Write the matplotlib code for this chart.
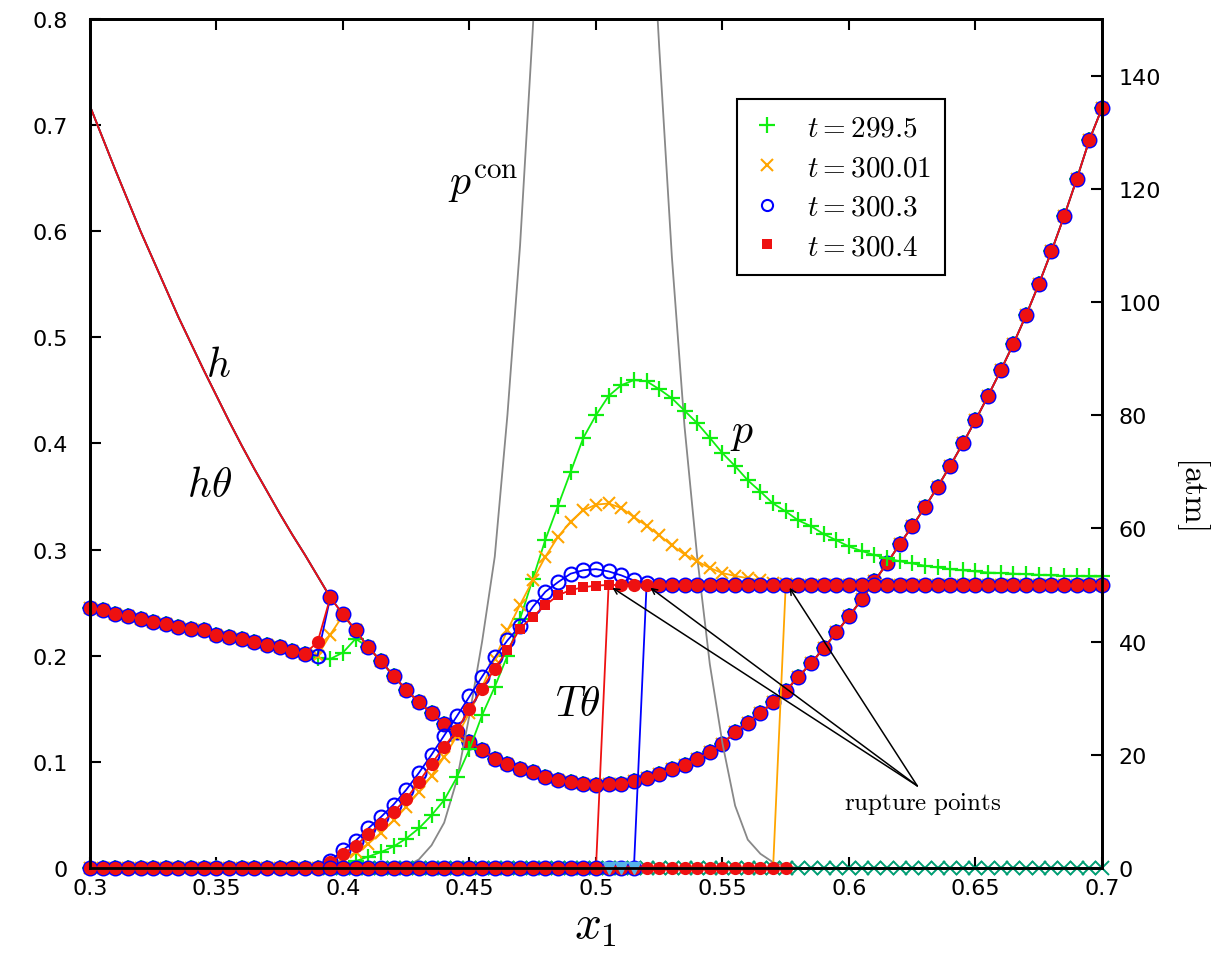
import numpy as np
import matplotlib
matplotlib.use("Agg")
import matplotlib.pyplot as plt
from matplotlib.lines import Line2D

plt.rcParams['mathtext.fontset'] = 'cm'

# grid in x1
x = np.round(np.linspace(0.3, 0.7, 81), 3)

# h left of the contact zone (line only)
h_left = [0.718, 0.688, 0.658, 0.629, 0.600, 0.573, 0.546, 0.519, 0.494, 0.469,
          0.445, 0.421, 0.398, 0.376, 0.355, 0.334, 0.314, 0.295, 0.275, 0.255]

# h*theta, shared part for x <= 0.385
htheta_left = [0.245, 0.243, 0.239, 0.237, 0.235, 0.232, 0.230, 0.227, 0.225,
               0.224, 0.220, 0.218, 0.216, 0.213, 0.210, 0.208, 0.204, 0.202]
# x = 0.39 .. 0.405, per time
htheta_jump = {
    '299.5': [0.198, 0.197, 0.203, 0.216],
    '300.01': [0.200, 0.220, 0.238, 0.224],
    '300.3': [0.200, 0.255, 0.239, 0.224],
    '300.4': [0.213, 0.255, 0.239, 0.224],
}
# x = 0.41 .. 0.7, shared
htheta_right = [0.208, 0.195, 0.181, 0.168, 0.156, 0.146, 0.136, 0.128, 0.119, 0.111,
                0.103, 0.098, 0.093, 0.090, 0.086, 0.083, 0.081, 0.079, 0.078, 0.079,
                0.079, 0.082, 0.085, 0.089, 0.093, 0.097, 0.103, 0.109, 0.117, 0.128,
                0.137, 0.146, 0.156, 0.167, 0.180, 0.193, 0.207, 0.222, 0.237, 0.253,
                0.270, 0.287, 0.305, 0.322, 0.340, 0.359, 0.379, 0.400, 0.422, 0.445,
                0.469, 0.494, 0.521, 0.550, 0.581, 0.614, 0.649, 0.686, 0.716]

# pressure p [atm], zero for x <= 0.39, then x = 0.395 .. 0.7
p_zero = [0.0] * 19
p_green = [0, 0.5, 1.2, 2, 2.8, 3.8, 5.2, 7, 9.3, 12, 16, 21, 27, 32, 37.5, 44, 51, 58,
           64, 70, 76, 80, 83.4, 85.3, 86.2, 86, 84.6, 83, 80.8, 78.6, 76, 73.3, 71,
           68.5, 66.5, 64.4, 63, 61.4, 60.4, 59, 57.9, 56.8, 56, 55.3, 54.7, 54.2, 53.8,
           53.4, 53.1, 52.8, 52.6, 52.4, 52.2, 52.1, 52, 51.9, 51.8, 51.7, 51.6, 51.6,
           51.5, 51.5]
p_orange = [0.5, 1.5, 2.8, 4.3, 6.2, 8.4, 10.8, 13.4, 16.3, 19.6, 23.3, 27.4, 32, 37,
            42, 46.5, 50.8, 55, 58.5, 61.2, 63.2, 64.2, 64.4, 63.6, 62, 60.5, 58.8, 57,
            55.4, 54.2, 53, 52.1, 51.6, 51.2, 50.8, 50.4, 50.2] + [50] * 25
p_blue = [1.2, 3.2, 4.8, 7.0, 9.0, 11.2, 13.8, 16.8, 20.0, 23.4, 26.8, 30.3, 33.8, 37.2,
          40.2, 42.8, 46.1, 48.8, 50.5, 52.0, 52.6, 52.8, 52.4, 51.7, 50.8, 50.4] + [50] * 36
p_red = [1.0, 2.5, 3.9, 6.0, 7.8, 9.9, 12.2, 15.2, 18.4, 21.4, 24.3, 28.1, 31.7, 35.2,
         38.5, 42.3, 44.4, 46.4, 48.2, 49.1, 49.6, 49.9] + [50] * 40

# contact pressure p^con [atm], x = 0.42 .. 0.58
x_con = np.round(np.linspace(0.42, 0.58, 33), 3)
p_con = [0, 0.3, 1.5, 4, 8, 15.5, 27, 40, 55, 80, 110, 148, 190, 225, 252, 268, 272,
         266, 250, 224, 185, 145, 108, 78, 55, 36, 22, 11, 5, 2.5, 1, 0.3, 0]

# rupture points: (x at zero, x at cavitation level)
rupture = {'300.01': (0.57, 0.575), '300.3': (0.515, 0.52), '300.4': (0.5, 0.505)}
p_cav = 50

# markers lying on zero in the cavitated part
x_zero_teal = x[19:]
x_zero_blue = x[19:44]
x_zero_red = x[19:56]
x_zero_light = [0.505, 0.51, 0.515]

times = ['299.5', '300.01', '300.3', '300.4']
colors = {'299.5': '#11ee11', '300.01': '#ffa500', '300.3': '#0000ff', '300.4': '#ee1111'}
p_all = {'299.5': p_zero + p_green, '300.01': p_zero + p_orange,
         '300.3': p_zero + p_blue, '300.4': p_zero + p_red}
mk = {'299.5': dict(marker='+', ms=11, mew=1.6),
      '300.01': dict(marker='x', ms=9, mew=1.5),
      '300.3': dict(marker='o', ms=10, mew=1.5, mfc='none'),
      '300.4': dict(marker='o', ms=9.5, mew=0)}
# red p points drawn as small squares (x = 0.465 .. 0.505)
sq = list(range(33, 42))
round_pts = [i for i in range(len(x)) if i not in sq]

fig = plt.figure(figsize=(12.22, 9.62), dpi=100)
ax = fig.add_axes([0.0736, 0.0967, 0.8282, 0.8825])
ax2 = ax.twinx()

ax2.plot(x_con, p_con, color='#888888', lw=1.3)

for t in times:
    c = colors[t]
    ht = htheta_left + htheta_jump[t] + htheta_right
    ax.plot(x[:20], h_left, color=c, lw=1.3)
    ax.plot(x, ht, color=c, lw=1.3, mec=c, mfc=mk[t].get('mfc', c), clip_on=False,
            **{k: v for k, v in mk[t].items() if k != 'mfc'})

ax2.plot(x_zero_teal, [0] * len(x_zero_teal), ls='none', marker='x', ms=9.5, mew=1.4,
         color='#009e73', clip_on=False)
for t in times:
    c = colors[t]
    if t == '300.4':
        ax2.plot(x, p_all[t], color=c, lw=1.3, marker='o', ms=9.5, mew=0,
                 markevery=round_pts, clip_on=False)
        ax2.plot(x, p_all[t], ls='none', color=c, marker='s', ms=7, mew=0,
                 markevery=sq, clip_on=False)
    else:
        ax2.plot(x, p_all[t], color=c, lw=1.3, mec=c, mfc=mk[t].get('mfc', c),
                 clip_on=False, **{k: v for k, v in mk[t].items() if k != 'mfc'})
    if t in rupture:
        xb, xt = rupture[t]
        ax2.plot([xb, xt], [0, p_cav], color=c, lw=1.3)
ax2.plot(x_zero_blue, [0] * len(x_zero_blue), ls='none', marker='o', ms=10, mew=1.5,
         mfc='none', mec='#0000ff', clip_on=False)
ax2.plot(x_zero_red, [0] * len(x_zero_red), ls='none', marker='o', ms=9.5, mew=0,
         mfc='#ee1111', clip_on=False)
ax2.plot(x_zero_light, [0] * 3, ls='none', marker='v', ms=9, color='#56b4e9',
         clip_on=False)

ax.set_xlim(0.3, 0.7)
ax.set_ylim(0, 0.8)
ax2.set_ylim(0, 150)

xt = [0.3, 0.35, 0.4, 0.45, 0.5, 0.55, 0.6, 0.65, 0.7]
ax.set_xticks(xt)
ax.set_xticklabels(['0.3', '0.35', '0.4', '0.45', '0.5', '0.55', '0.6', '0.65', '0.7'])
ax.set_yticks([0, 0.1, 0.2, 0.3, 0.4, 0.5, 0.6, 0.7, 0.8])
ax.set_yticklabels(['0', '0.1', '0.2', '0.3', '0.4', '0.5', '0.6', '0.7', '0.8'])
ax2.set_yticks([0, 20, 40, 60, 80, 100, 120, 140])
ax.tick_params(axis='x', direction='in', top=True, length=8, width=1.5, labelsize=16, pad=7)
ax.tick_params(axis='y', direction='in', length=8, width=1.5, labelsize=16, pad=16)
ax2.tick_params(axis='y', direction='in', length=8, width=1.5, labelsize=16, pad=12)
for a in (ax, ax2):
    for s in a.spines.values():
        s.set_linewidth(2)

ax.set_xlabel(r'$x_1$', fontsize=34, labelpad=4)
ax2.text(1.09, 0.443, r'$[\mathrm{atm}]$', fontsize=24, rotation=-90,
         ha='center', va='center', transform=ax2.transAxes)

ax.text(0.3506, 0.475, r'$h$', fontsize=30, ha='center', va='center')
ax.text(0.3474, 0.362, r'$h\theta$', fontsize=30, ha='center', va='center')
ax.text(0.4929, 0.155, r'$T\theta$', fontsize=30, ha='center', va='center')
ax.text(0.5577, 0.412, r'$p$', fontsize=30, ha='center', va='center')
ax.text(0.4553, 0.645, r'$p^{\mathrm{con}}$', fontsize=30, ha='center', va='center')

ax2.text(0.629, 11.5, r'$\mathrm{rupture\ points}$', fontsize=18, ha='center', va='center')
for t in rupture:
    ax2.annotate('', xy=(rupture[t][1] + 0.0015, p_cav - 0.5), xytext=(0.627, 14.5),
                 arrowprops=dict(arrowstyle='->', color='k', lw=1.1,
                                 shrinkA=0, shrinkB=0))

handles = [Line2D([], [], ls='none', marker='+', ms=11, mew=1.6, color=colors['299.5']),
           Line2D([], [], ls='none', marker='x', ms=9, mew=1.5, color=colors['300.01']),
           Line2D([], [], ls='none', marker='o', ms=8, mew=1.5, mfc='none',
                  mec=colors['300.3']),
           Line2D([], [], ls='none', marker='s', ms=7, mew=0, color=colors['300.4'])]
labels = [r'$t=299.5$', r'$t=300.01$', r'$t=300.3$', r'$t=300.4$']
leg = ax2.legend(handles, labels, loc='upper left', bbox_to_anchor=(0.639, 0.906),
                 fontsize=21, frameon=True, fancybox=False, framealpha=1,
                 edgecolor='black', labelspacing=0.4, handlelength=1.1,
                 handletextpad=0.8, borderpad=0.5, borderaxespad=0)
leg.get_frame().set_linewidth(1.5)

fig.savefig('out.png', dpi=100)
